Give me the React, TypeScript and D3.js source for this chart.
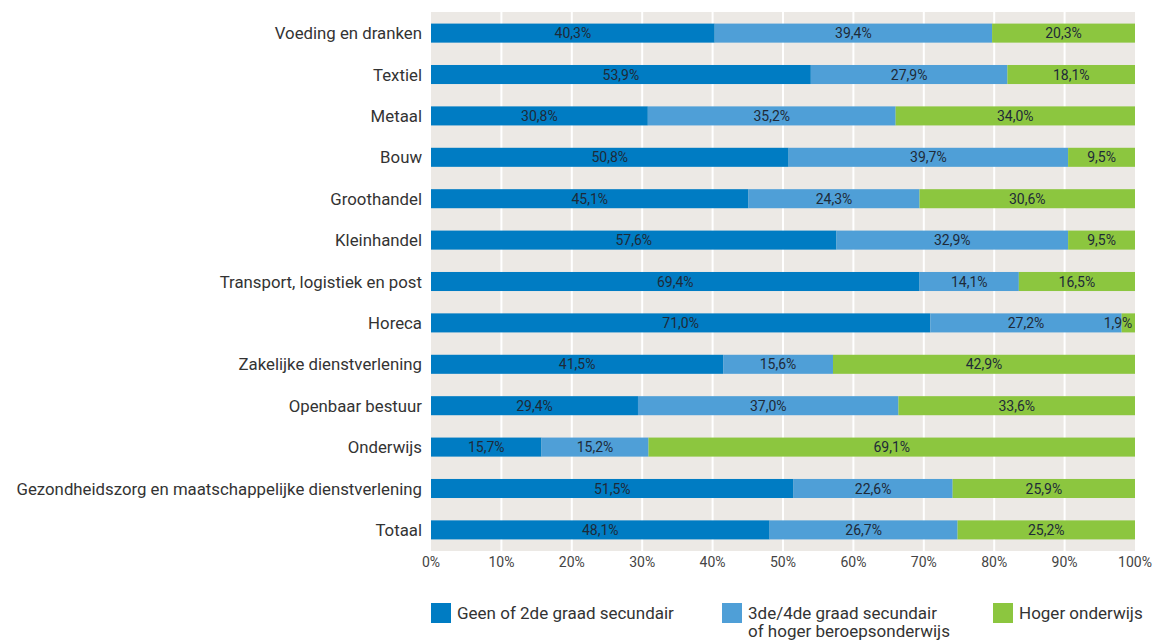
import { useEffect } from 'react';
import * as d3 from 'd3';

const categories = [
    'Voeding en dranken',
    'Textiel',
    'Metaal',
    'Bouw',
    'Groothandel',
    'Kleinhandel',
    'Transport, logistiek en post',
    'Horeca',
    'Zakelijke dienstverlening',
    'Openbaar bestuur',
    'Onderwijs',
    'Gezondheidszorg en maatschappelijke dienstverlening',
    'Totaal',
];

const geen = [40.3, 53.9, 30.8, 50.8, 45.1, 57.6, 69.4, 71.0, 41.5, 29.4, 15.7, 51.5, 48.1];
const derde = [39.4, 27.9, 35.2, 39.7, 24.3, 32.9, 14.1, 27.2, 15.6, 37.0, 15.2, 22.6, 26.7];
const hoger = [20.3, 18.1, 34.0, 9.5, 30.6, 9.5, 16.5, 1.9, 42.9, 33.6, 69.1, 25.9, 25.2];

const seriesKeys = ['geen', 'derde', 'hoger'];
const seriesColors = ['#007cc3', '#4f9fd7', '#8cc63f'];
const tickValues = [0, 10, 20, 30, 40, 50, 60, 70, 80, 90, 100];

const W = 1153;
const H = 640;
const plot = { left: 431, right: 1135, top: 12, bottom: 551 };
const FONT = 'Roboto, "DejaVu Sans", sans-serif';
const labelColor = '#1e2a38';

const fmt = (v: number) => v.toFixed(1).replace('.', ',') + '%';

export default function App() {
    useEffect(() => {
        document.body.style.margin = '0';
    }, []);

    const rows = categories.map((c, i) => ({ cat: c, geen: geen[i], derde: derde[i], hoger: hoger[i] }));
    const stacked = d3.stack<any>().keys(seriesKeys).offset(d3.stackOffsetExpand)(rows);

    const x = d3.scaleLinear().domain([0, 1]).range([plot.left, plot.right]);
    const y = d3.scaleBand<string>()
        .domain(categories)
        .range([plot.top, plot.bottom])
        .paddingInner(0.54)
        .paddingOuter(0.28);

    const legend = [
        { x: 431, lines: ['Geen of 2de graad secundair'] },
        { x: 722, lines: ['3de/4de graad secundair', 'of hoger beroepsonderwijs'] },
        { x: 993, lines: ['Hoger onderwijs'] },
    ];

    return (
        <svg width={W} height={H} style={{ display: 'block', fontFamily: FONT }}>
            <rect x={plot.left} y={plot.top} width={plot.right - plot.left} height={plot.bottom - plot.top} fill="#ece9e5" />
            {/* gridlines */}
            {tickValues.slice(1, -1).map(t => (
                <line key={t} x1={x(t / 100)} x2={x(t / 100)} y1={plot.top} y2={plot.bottom} stroke="#fff" strokeWidth={2} />
            ))}
            {/* bars */}
            {stacked.map((s, si) => (
                <g key={s.key}>
                    {s.map((d, i) => {
                        const x0 = x(d[0]);
                        const x1 = x(d[1]);
                        const yy = y(categories[i]) ?? 0;
                        const val = (rows[i] as any)[s.key] as number;
                        let cx = (x0 + x1) / 2;
                        cx = Math.min(cx, plot.right - 17);
                        return (
                            <g key={i}>
                                <rect x={x0} y={yy} width={x1 - x0} height={y.bandwidth()} fill={seriesColors[si]} />
                                <text x={cx} y={yy + y.bandwidth() / 2} dy="0.36em" textAnchor="middle"
                                    fontSize={14} fill={labelColor}>{fmt(val)}</text>
                            </g>
                        );
                    })}
                </g>
            ))}
            {/* category labels */}
            {categories.map(c => (
                <text key={c} x={422} y={(y(c) ?? 0) + y.bandwidth() / 2} dy="0.36em" textAnchor="end"
                    fontSize={16.8} fill="#333">{c}</text>
            ))}
            {/* x ticks */}
            {tickValues.map(t => (
                <text key={t} x={x(t / 100)} y={567} textAnchor="middle" fontSize={14} fill="#444">{t}%</text>
            ))}
            {/* legend */}
            {legend.map((l, i) => (
                <g key={i}>
                    <rect x={l.x} y={603} width={20} height={20} fill={seriesColors[i]} />
                    {l.lines.map((ln, j) => (
                        <text key={j} x={l.x + 26} y={619 + j * 18} fontSize={17} fill="#333">{ln}</text>
                    ))}
                </g>
            ))}
        </svg>
    );
}
